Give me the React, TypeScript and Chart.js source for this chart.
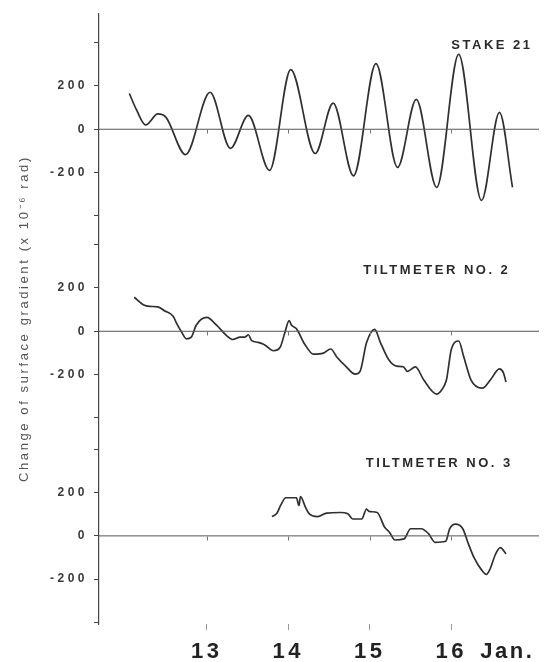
import { useEffect, useRef } from "react";
import { Chart, registerables } from "chart.js";

Chart.register(...registerables);

// ---- data (day of January, change of surface gradient in 10^-6 rad) ----
const dayTicks = [13, 14, 15, 16];
const dayLabels = ["13", "14", "15", "16"];
const monthLabel = "Jan.";
const panelNames = ["STAKE 21", "TILTMETER NO. 2", "TILTMETER NO. 3"];
const panelTickValues = [-400, -200, 0, 200, 400];
const panelTickLabels = ["", "-200", "0", "200", ""];

const stake21: [number, number][] = [
  [12.05, 165], [12.14, 88], [12.25, 20], [12.40, 71], [12.50, 55],
  [12.74, -117], [13.04, 171], [13.29, -88], [13.51, 64], [13.77, -190],
  [14.03, 275], [14.33, -112], [14.55, 121], [14.80, -215], [15.075, 303],
  [15.34, -176], [15.57, 138], [15.82, -268], [16.09, 346], [16.37, -329],
  [16.59, 78], [16.75, -268],
];

const tilt2: [number, number][] = [
  [12.11, 157], [12.22, 123], [12.30, 115], [12.40, 113], [12.48, 95], [12.59, 68],
  [12.63, 36], [12.69, -3], [12.75, -35], [12.81, -27], [12.87, 28], [13.00, 64],
  [13.12, 28], [13.24, -19], [13.32, -38], [13.41, -27], [13.47, -27], [13.51, -16],
  [13.55, -43], [13.63, -51], [13.69, -59], [13.72, -66], [13.82, -90], [13.90, -74],
  [13.96, -3], [14.01, 49], [14.04, 28], [14.10, 12], [14.20, -59], [14.31, -106],
  [14.43, -101], [14.52, -82], [14.60, -121], [14.70, -160], [14.82, -198], [14.88, -185],
  [14.96, -52], [15.06, 9], [15.13, -52], [15.23, -130], [15.33, -161], [15.41, -164],
  [15.46, -185], [15.56, -164], [15.66, -224], [15.82, -290], [15.88, -271], [15.94, -224],
  [16.00, -83], [16.09, -45], [16.15, -115], [16.24, -224], [16.38, -263], [16.48, -224],
  [16.59, -174], [16.64, -193], [16.67, -235],
];

const tilt3: [number, number][] = [
  [13.80, 89], [13.86, 105], [13.91, 144], [13.97, 176], [14.10, 176], [14.13, 140],
  [14.15, 181], [14.21, 133], [14.25, 105], [14.36, 89], [14.47, 105], [14.64, 108],
  [14.73, 102], [14.79, 78], [14.90, 78], [14.96, 124], [14.99, 113], [15.09, 108],
  [15.18, 41], [15.24, 17], [15.31, -19], [15.42, -14], [15.50, 33], [15.63, 33],
  [15.72, 10], [15.80, -30], [15.93, -25], [15.98, 33], [16.05, 54], [16.14, 33],
  [16.21, -38], [16.28, -102], [16.37, -157], [16.43, -178], [16.47, -157], [16.54, -86],
  [16.60, -54], [16.67, -83],
];

const series = [stake21, tilt2, tilt3];

// ---- layout of the stacked panels on one axis ----
const PANEL_OFFSETS = [1878, 945, 0];
const X_MIN = 11.678;
const X_MAX = 17.075;
const Y_MIN = -407;
const Y_MAX = 2414;

const FONT = '"Liberation Sans", Arial, Helvetica, sans-serif';
const X_TICK_LEN = 6;
const X_TICK_PAD = 9;
const X_FONT_SIZE = 22;

const LABEL_POS: [number, number][] = [
  [16.0, 385],
  [14.92, 281],
  [14.95, 336],
];

function tickLabelFor(value: number): string {
  for (const o of PANEL_OFFSETS) {
    const rel = Math.round(value - o);
    const idx = panelTickValues.indexOf(rel);
    if (idx >= 0) return panelTickLabels[idx];
  }
  return "";
}

const decorPlugin = {
  id: "decor",
  beforeDraw(chart: any) {
    chart.ctx.letterSpacing = "2.6px";
  },
  afterDatasetsDraw(chart: any) {
    const ctx = chart.ctx as CanvasRenderingContext2D;
    const xs = chart.scales.x;
    const ys = chart.scales.y;
    ctx.save();
    ctx.strokeStyle = "#777";
    ctx.lineWidth = 1;
    for (const o of PANEL_OFFSETS) {
      const py = Math.round(ys.getPixelForValue(o)) + 0.5;
      for (const d of dayTicks) {
        const px = Math.round(xs.getPixelForValue(d)) + 0.5;
        ctx.beginPath();
        ctx.moveTo(px, py);
        ctx.lineTo(px, py + 4);
        ctx.stroke();
      }
    }
    ctx.restore();
    ctx.letterSpacing = "3.5px";
  },
  afterDraw(chart: any) {
    const ctx = chart.ctx as CanvasRenderingContext2D;
    const xs = chart.scales.x;
    const ys = chart.scales.y;
    ctx.save();
    ctx.letterSpacing = "2.5px";
    ctx.fillStyle = "#2a2a2a";
    ctx.font = `bold 13px ${FONT}`;
    ctx.textAlign = "left";
    ctx.textBaseline = "middle";
    panelNames.forEach((name, i) => {
      const [d, v] = LABEL_POS[i];
      ctx.fillText(name, xs.getPixelForValue(d), ys.getPixelForValue(PANEL_OFFSETS[i] + v));
    });
    ctx.letterSpacing = "2.5px";
    ctx.font = `bold ${X_FONT_SIZE}px ${FONT}`;
    ctx.fillStyle = "#222";
    const yLab = xs.top + X_TICK_LEN + X_TICK_PAD + (X_FONT_SIZE * 1.2) / 2;
    ctx.fillText(monthLabel, xs.getPixelForValue(dayTicks[dayTicks.length - 1]) + 29, yLab);
    ctx.restore();
    ctx.letterSpacing = "0px";
  },
};

export default function App() {
  const canvasRef = useRef<HTMLCanvasElement | null>(null);

  useEffect(() => {
    if (!canvasRef.current) return;
    const dataSets: any[] = [];
    series.forEach((s, i) => {
      const o = PANEL_OFFSETS[i];
      dataSets.push({
        data: [
          { x: X_MIN, y: o },
          { x: X_MAX, y: o },
        ],
        borderColor: "#555",
        borderWidth: 1,
        pointRadius: 0,
        tension: 0,
      });
      dataSets.push({
        data: s.map(([d, v]) => ({ x: d, y: v + o })),
        borderColor: "#303030",
        borderWidth: 1.7,
        pointRadius: 0,
        cubicInterpolationMode: "monotone",
      });
    });

    const chart = new Chart(canvasRef.current, {
      type: "line",
      data: { datasets: dataSets },
      plugins: [decorPlugin],
      options: {
        responsive: false,
        animation: false,
        layout: { padding: { top: 9, right: 11, left: 0, bottom: 0 } },
        plugins: {
          legend: { display: false },
          tooltip: { enabled: false },
        },
        scales: {
          x: {
            type: "linear",
            min: X_MIN,
            max: X_MAX,
            border: { display: false },
            grid: {
              drawOnChartArea: false,
              drawTicks: true,
              tickLength: X_TICK_LEN,
              color: "#999",
            },
            ticks: {
              z: 1,
              autoSkip: false,
              maxRotation: 0,
              padding: X_TICK_PAD,
              color: "#222",
              font: { family: FONT, size: X_FONT_SIZE, weight: "bold" },
              callback: (value: any) => {
                const idx = dayTicks.indexOf(Math.round(Number(value)));
                return idx >= 0 ? dayLabels[idx] : "";
              },
            },
            afterBuildTicks: (scale: any) => {
              scale.ticks = dayTicks.map((v) => ({ value: v }));
            },
            afterFit: (scale: any) => {
              scale.height = 38;
            },
          },
          y: {
            type: "linear",
            min: Y_MIN,
            max: Y_MAX,
            border: { display: true, color: "#444", width: 1.2 },
            grid: {
              drawOnChartArea: false,
              drawTicks: true,
              tickLength: 5,
              color: "#444",
            },
            ticks: {
              z: 1,
              autoSkip: false,
              padding: 6,
              color: "#3a3a3a",
              font: { family: FONT, size: 12, weight: "bold" },
              callback: (value: any) => tickLabelFor(Number(value)),
            },
            title: {
              display: true,
              text: "Change of surface gradient (x 10\u207B\u2076 rad)",
              color: "#555",
              font: { family: FONT, size: 13 },
              padding: { top: 17, bottom: 0 },
            },
            afterBuildTicks: (scale: any) => {
              const t: { value: number }[] = [];
              PANEL_OFFSETS.forEach((o) => panelTickValues.forEach((v) => t.push({ value: o + v })));
              t.sort((a, b) => a.value - b.value);
              scale.ticks = t;
            },
            afterFit: (scale: any) => {
              scale.width = 99;
            },
          },
        },
      } as any,
    });
    return () => chart.destroy();
  }, []);

  return (
    <div style={{ position: "absolute", left: 0, top: 0, width: 550, height: 662, background: "#fff" }}>
      <canvas ref={canvasRef} width={550} height={662} style={{ display: "block" }} />
    </div>
  );
}
